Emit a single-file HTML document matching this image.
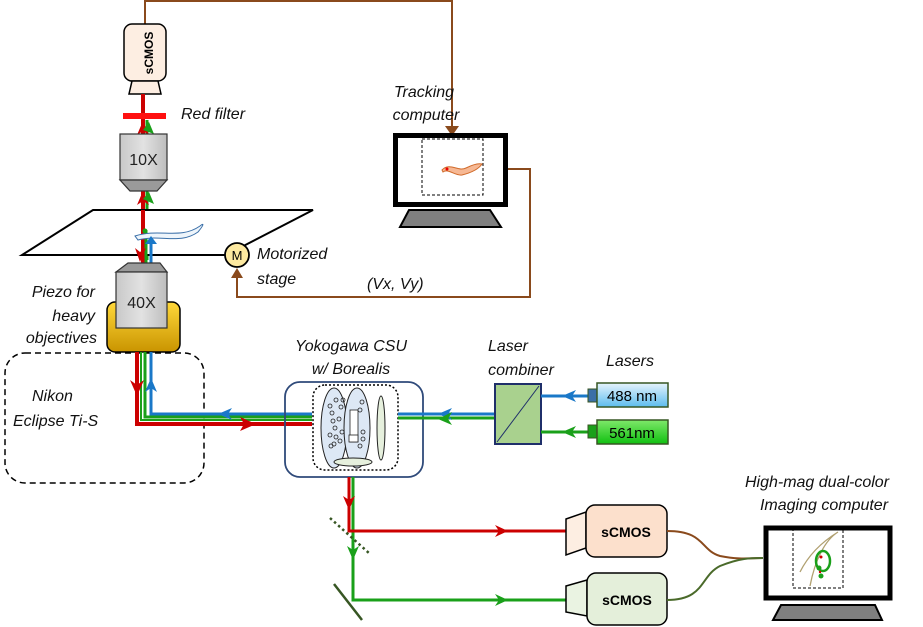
<!DOCTYPE html>
<html><head><meta charset="utf-8"><style>
html,body{margin:0;padding:0;background:#fff;}
svg{display:block;}
text{font-family:"Liberation Sans",sans-serif;}
.it{font-style:italic;font-size:16px;fill:#111;}
</style></head><body>
<svg width="923" height="627" viewBox="0 0 923 627" xmlns="http://www.w3.org/2000/svg">
<defs>
<linearGradient id="gray" x1="0" x2="1"><stop offset="0" stop-color="#c8c8c8"/><stop offset="0.5" stop-color="#e2e2e2"/><stop offset="1" stop-color="#bdbdbd"/></linearGradient>
<linearGradient id="gold" x1="0" y1="0" x2="0" y2="1"><stop offset="0" stop-color="#ffd83a"/><stop offset="1" stop-color="#c99400"/></linearGradient>
<linearGradient id="blu" x1="0" y1="0" x2="0" y2="1"><stop offset="0" stop-color="#e6f3fc"/><stop offset="1" stop-color="#5cbcee"/></linearGradient>
<linearGradient id="grn" x1="0" y1="0" x2="0" y2="1"><stop offset="0" stop-color="#7fe86a"/><stop offset="1" stop-color="#10c010"/></linearGradient>
</defs>

<path d="M145 24 V1 H452 V128" fill="none" stroke="#8a4a1c" stroke-width="2"/>
<polygon points="445,126 459,126 452,136" fill="#8a4a1c"/>

<rect x="124" y="24" width="42" height="57" rx="8" fill="#fdeee2" stroke="#000" stroke-width="1.5"/>
<text x="150" y="53" font-size="12" font-weight="bold" text-anchor="middle" transform="rotate(-90 150 53)" dominant-baseline="middle">sCMOS</text>
<polygon points="132,81 158,81 161,94 129,94" fill="#fdeee2" stroke="#000" stroke-width="1.5"/>

<line x1="143" y1="94" x2="143" y2="260" stroke="#cc0000" stroke-width="4"/>
<line x1="147" y1="120" x2="147" y2="260" stroke="#1aa01a" stroke-width="3"/>
<rect x="123" y="113" width="43" height="6" fill="#ff1010"/>
<text class="it" x="181" y="119">Red filter</text>
<polygon points="137,135 143,121 149,135 143,131" fill="#cc0000"/>
<polygon points="143,130 149,122 154,134" fill="#1aa01a"/>

<rect x="120" y="134" width="47" height="46" fill="url(#gray)" stroke="#333" stroke-width="1.2"/>
<polygon points="120,180 167,180 157,191 130,191" fill="#9a9a9a" stroke="#333" stroke-width="1.2"/>
<text x="143.5" y="165" font-size="16" text-anchor="middle" fill="#222">10X</text>
<polygon points="137,205 143,191 149,205 143,201" fill="#cc0000"/>
<polygon points="143,199 149,192 154,204" fill="#1aa01a"/>

<polygon points="93,210 313,210 226,255 22,255" fill="#fff" stroke="#000" stroke-width="2"/>
<line x1="143" y1="210" x2="143" y2="265" stroke="#cc0000" stroke-width="4"/>
<line x1="146" y1="230" x2="146" y2="265" stroke="#1aa01a" stroke-width="3"/>
<line x1="151" y1="240" x2="151" y2="265" stroke="#1a78c8" stroke-width="3"/>
<path d="M135 236 C160 228 180 240 200 226 C205 222 203 226 198 232 C180 245 160 234 138 240 Z" fill="#eef5fb" stroke="#3a6fa8" stroke-width="1"/>
<polygon points="135,248 140,262 146,248 140,252" fill="#cc0000"/>
<polygon points="145,244 151,236 157,244" fill="#1a78c8"/>
<circle cx="145" cy="231" r="2.5" fill="#1aa01a"/>
<circle cx="237" cy="255" r="12" fill="#fde9a0" stroke="#000" stroke-width="1.8"/>
<text x="237" y="260" font-size="13" text-anchor="middle">M</text>
<text class="it" x="257" y="259">Motorized</text>
<text class="it" x="257" y="284">stage</text>
<path d="M237 276 V297 H530 V169 H507" fill="none" stroke="#8a4a1c" stroke-width="2"/>
<polygon points="231,278 243,278 237,268" fill="#8a4a1c"/>
<text class="it" x="367" y="289" font-size="15">(Vx, Vy)</text>

<rect x="107" y="302" width="73" height="50" rx="8" fill="url(#gold)" stroke="#000" stroke-width="1.5"/>
<polygon points="128,263 160,263 167,272 116,272" fill="#9a9a9a" stroke="#333" stroke-width="1.2"/>
<rect x="116" y="272" width="51" height="56" fill="url(#gray)" stroke="#333" stroke-width="1.2"/>
<text x="141.5" y="308" font-size="16" text-anchor="middle" fill="#222">40X</text>
<text class="it" x="95" y="297" text-anchor="end">Piezo for</text>
<text class="it" x="95" y="321" text-anchor="end">heavy</text>
<text class="it" x="97" y="343" text-anchor="end">objectives</text>

<rect x="5" y="353" width="199" height="130" rx="20" fill="none" stroke="#000" stroke-width="1.5" stroke-dasharray="6,4"/>
<text class="it" x="32" y="401">Nikon</text>
<text class="it" x="13" y="426">Eclipse Ti-S</text>

<path d="M151 352 V414 H312" fill="none" stroke="#1a78c8" stroke-width="3"/>
<path d="M145 352 V417 H312" fill="none" stroke="#1aa01a" stroke-width="3"/>
<path d="M141 352 V420 H312" fill="none" stroke="#1aa01a" stroke-width="2"/>
<path d="M137 352 V424 H312" fill="none" stroke="#cc0000" stroke-width="4"/>
<polygon points="130,380 137,396 144,380 137,385" fill="#cc0000"/>
<polygon points="145,392 151,378 157,392 151,388" fill="#1a78c8"/>
<polygon points="232,408 218,414 232,420 228,414" fill="#1a78c8"/>
<polygon points="240,417 256,424 240,431 244,424" fill="#cc0000"/>

<text class="it" x="351" y="351" text-anchor="middle">Yokogawa CSU</text>
<text class="it" x="351" y="374" text-anchor="middle">w/ Borealis</text>
<rect x="285" y="382" width="138" height="95" rx="15" fill="none" stroke="#2f4a7a" stroke-width="1.8"/>
<rect x="313" y="385" width="85" height="85" rx="12" fill="#fff" stroke="#000" stroke-width="1.5" stroke-dasharray="2,2"/>
<ellipse cx="334" cy="428" rx="13" ry="40" fill="#dde8f5" stroke="#222" stroke-width="1"/>
<ellipse cx="357" cy="428" rx="13" ry="40" fill="#dde8f5" stroke="#222" stroke-width="1"/>
<rect x="350" y="410" width="8" height="32" fill="#fff" stroke="#222" stroke-width="0.8"/>
<rect x="349" y="435" width="9" height="7" fill="#fff" stroke="#222" stroke-width="0.8"/>
<g fill="none" stroke="#222" stroke-width="0.8">
<circle cx="330" cy="406" r="2"/><circle cx="336" cy="400" r="2"/><circle cx="343" cy="400" r="2"/><circle cx="332" cy="413" r="2"/><circle cx="341" cy="407" r="2"/><circle cx="333" cy="421" r="2"/><circle cx="339" cy="419" r="2"/><circle cx="335" cy="428" r="2"/><circle cx="330" cy="435" r="2"/><circle cx="336" cy="437" r="2"/><circle cx="342" cy="432" r="2"/><circle cx="340" cy="441" r="2"/><circle cx="331" cy="446" r="2"/><circle cx="362" cy="402" r="2"/><circle cx="360" cy="410" r="2"/><circle cx="363" cy="432" r="2"/><circle cx="363" cy="439" r="2"/><circle cx="360" cy="446" r="2"/><circle cx="334" cy="444" r="2"/>
</g>
<ellipse cx="381" cy="428" rx="4" ry="32" fill="#e6f0dd" stroke="#222" stroke-width="1"/>
<ellipse cx="353" cy="462" rx="19" ry="4" fill="#e6f0dd" stroke="#222" stroke-width="1"/>

<line x1="398" y1="414" x2="495" y2="414" stroke="#1a78c8" stroke-width="3"/>
<line x1="398" y1="418" x2="495" y2="418" stroke="#1aa01a" stroke-width="3"/>
<polygon points="452,408 438,414 452,420 448,414" fill="#1a78c8"/>
<polygon points="452,412 438,419 452,425 448,419" fill="#1aa01a"/>
<text class="it" x="508" y="351" text-anchor="middle">Laser</text>
<text class="it" x="521" y="375" text-anchor="middle">combiner</text>
<rect x="495" y="384" width="46" height="60" fill="#a9d18e" stroke="#1f2f6a" stroke-width="2"/>
<line x1="497" y1="442" x2="539" y2="386" stroke="#1f2f6a" stroke-width="1"/>
<line x1="541" y1="396" x2="590" y2="396" stroke="#1a78c8" stroke-width="3"/>
<line x1="541" y1="432" x2="590" y2="432" stroke="#1aa01a" stroke-width="3"/>
<polygon points="576,390 562,396 576,402 572,396" fill="#1a78c8"/>
<polygon points="576,426 562,432 576,438 572,432" fill="#1aa01a"/>
<text class="it" x="630" y="366" text-anchor="middle">Lasers</text>
<rect x="588" y="389" width="9" height="13" fill="#3a6fa8" stroke="#375623"/>
<rect x="597" y="383" width="71" height="24" fill="url(#blu)" stroke="#375623" stroke-width="1.5"/>
<text x="632" y="401" font-size="15" text-anchor="middle">488 nm</text>
<rect x="588" y="425" width="9" height="13" fill="#1aa01a" stroke="#375623"/>
<rect x="597" y="420" width="71" height="24" fill="url(#grn)" stroke="#375623" stroke-width="1.5"/>
<text x="632" y="438" font-size="15" text-anchor="middle">561nm</text>

<path d="M353 477 V600 H570" fill="none" stroke="#1aa01a" stroke-width="3"/>
<path d="M349 477 V531 H566" fill="none" stroke="#cc0000" stroke-width="3"/>
<polygon points="343,496 349,510 355,496 349,500" fill="#cc0000"/>
<polygon points="347,546 353,560 359,546 353,550" fill="#1aa01a"/>
<polygon points="495,525 508,531 495,537 499,531" fill="#cc0000"/>
<polygon points="495,594 508,600 495,606 499,600" fill="#1aa01a"/>
<line x1="330" y1="518" x2="370" y2="554" stroke="#375623" stroke-width="2.5" stroke-dasharray="2.5,3"/>
<line x1="334" y1="584" x2="362" y2="620" stroke="#375623" stroke-width="2.5"/>

<polygon points="566,519 586,512 586,548 566,555" fill="#fdeee2" stroke="#000" stroke-width="1.5"/>
<rect x="586" y="505" width="81" height="52" rx="9" fill="#fce0cc" stroke="#000" stroke-width="1.5"/>
<text x="626" y="537" font-size="14" font-weight="bold" text-anchor="middle">sCMOS</text>
<polygon points="566,586 587,580 587,616 566,612" fill="#eaf3e2" stroke="#000" stroke-width="1.5"/>
<rect x="587" y="573" width="80" height="52" rx="9" fill="#e4efda" stroke="#000" stroke-width="1.5"/>
<text x="627" y="605" font-size="14" font-weight="bold" text-anchor="middle">sCMOS</text>
<path d="M667 531 C705 531 700 550 720 556 C740 560 750 558 763 558" fill="none" stroke="#8a4a1c" stroke-width="2"/>
<path d="M667 600 C705 600 700 576 720 566 C740 558 750 558 763 558" fill="none" stroke="#4a6a2a" stroke-width="2"/>

<text class="it" x="817" y="487" text-anchor="middle">High-mag dual-color</text>
<text class="it" x="824" y="510" text-anchor="middle">Imaging computer</text>
<rect x="766" y="528" width="124" height="70" fill="#fff" stroke="#000" stroke-width="5"/>
<rect x="793" y="530" width="50" height="58" fill="none" stroke="#000" stroke-width="1" stroke-dasharray="3,2"/>
<path d="M810 586 C815 560 825 540 838 532 M800 572 C810 552 825 540 838 532" fill="none" stroke="#b0a070" stroke-width="1.3"/>
<ellipse cx="823" cy="561" rx="7" ry="10" fill="none" stroke="#1aa01a" stroke-width="2.5"/>
<circle cx="819" cy="568" r="2.5" fill="#1aa01a"/><circle cx="821" cy="576" r="2.5" fill="#1aa01a"/>
<circle cx="821" cy="557" r="1.5" fill="#cc0000"/><circle cx="820" cy="572" r="1.2" fill="#cc0000"/>
<polygon points="781,605 875,605 882,620 773,620" fill="#7f7f7f" stroke="#000" stroke-width="2"/>

<text class="it" x="424" y="97" text-anchor="middle">Tracking</text>
<text class="it" x="426" y="120" text-anchor="middle">computer</text>
<rect x="395.5" y="135.5" width="110" height="69" fill="#fff" stroke="#000" stroke-width="5"/>
<rect x="422" y="139" width="61" height="56" fill="none" stroke="#000" stroke-width="1" stroke-dasharray="3,2"/>
<path d="M442 170 C450 162 458 172 466 168 C472 165 478 163 482 164 C478 170 470 173 462 175 C455 176 448 168 443 172 Z" fill="#f6b894" stroke="#d06a2a" stroke-width="1"/>
<circle cx="447" cy="169" r="1.5" fill="#e00"/>
<polygon points="409,210 490,210 501,227 400,227" fill="#7f7f7f" stroke="#000" stroke-width="2"/>
</svg>
</body></html>
